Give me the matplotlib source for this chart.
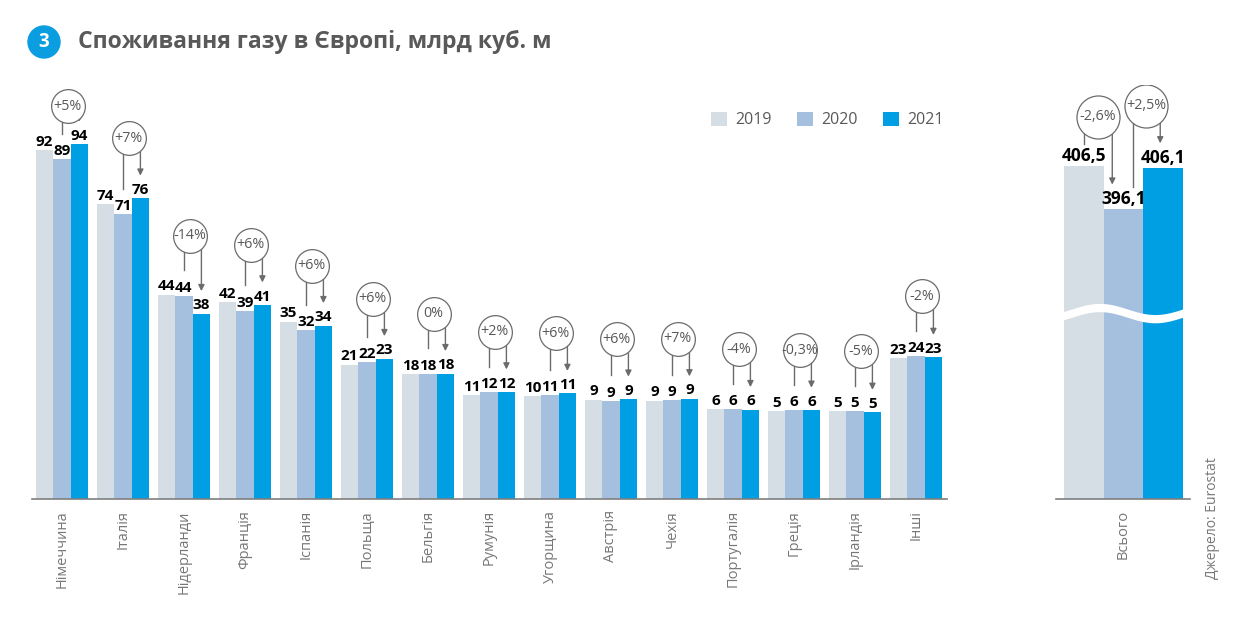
import numpy as np
import matplotlib.pyplot as plt
from matplotlib.patches import Circle

plt.rcParams['font.family'] = ['Open Sans', 'DejaVu Sans']

# дані (млрд куб. м)
countries = ["Німеччина", "Італія", "Нідерланди", "Франція", "Іспанія", "Польща",
             "Бельгія", "Румунія", "Угорщина", "Австрія", "Чехія", "Португалія",
             "Греція", "Ірландія", "Інші"]
years = ["2019", "2020", "2021"]
gas_2019 = [92.3, 74.3, 44.1, 41.6, 35.1, 20.8, 17.7, 10.7, 10.2, 9.1, 8.8, 6.0, 5.2, 5.2, 23.0]
gas_2020 = [89.3, 71.0, 43.7, 38.7, 32.3, 21.6, 17.7, 11.6, 10.6, 8.7, 8.9, 6.0, 5.6, 5.2, 23.6]
gas_2021 = [94.3, 76.3, 37.8, 40.7, 33.8, 22.8, 17.8, 11.7, 11.2, 9.3, 9.4, 5.8, 5.6, 4.9, 23.2]
changes = ["+5%", "+7%", "-14%", "+6%", "+6%", "+6%", "0%", "+2%", "+6%", "+6%",
           "+7%", "-4%", "-0,3%", "-5%", "-2%"]

total_label = "Всього"
total_vals = [406.5, 396.1, 406.1]
total_changes = ["-2,6%", "+2,5%"]

colors = ["#D5DEE5", "#A4C0DE", "#009FE3"]
gray = "#6b6b6b"
textgray = "#595959"

fig = plt.figure(figsize=(12.6, 6.22), dpi=100)

# ── заголовок ──
fig.add_artist(Circle((0.44, 5.80), 0.16, transform=fig.dpi_scale_trans,
                      color="#0A9DDF", zorder=5))
fig.text(0.44 / 12.6, 5.80 / 6.22, "3", color="white", fontsize=13.5, fontweight="bold",
         ha="center", va="center", zorder=6)
fig.text(0.062, 0.932, "Споживання газу в Європі, млрд куб. м", fontsize=16.6,
         fontweight="bold", color=textgray, va="center", ha="left")

# ── основний графік ──
ax = fig.add_axes([0.0254, 0.1977, 0.7262, 0.6656])
x = np.arange(len(countries))
w = 0.287
base = -24
for i, vals in enumerate([gas_2019, gas_2020, gas_2021]):
    xs = x + (i - 1) * w
    ax.bar(xs, np.array(vals) - base, w, bottom=base, color=colors[i], label=years[i], zorder=2)
    for xi, v in zip(xs, vals):
        ax.annotate(f"{v:.0f}", (xi, v), xytext=(0, 1), textcoords="offset points",
                    ha="center", va="bottom", fontsize=11, fontweight="bold", color="black", zorder=6)

for xi, v20, v21, txt in zip(x, gas_2020, gas_2021, changes):
    cy = min(max(v20, v21) + 20, 107)
    cx = xi + w / 2 - 0.05
    ax.plot([xi, xi], [cy, v20 + 8.5], color=gray, lw=1, zorder=3)
    ax.annotate("", xy=(xi + w, v21 + 7.5), xytext=(xi + w, cy),
                arrowprops=dict(arrowstyle="-|>", color=gray, lw=1, mutation_scale=9,
                                shrinkA=0, shrinkB=0), zorder=3)
    ax.scatter([cx], [cy], s=590, facecolor="white", edgecolor=gray, lw=0.9, zorder=4)
    ax.text(cx, cy, txt, ha="center", va="center", fontsize=10.3, color=textgray, zorder=5)

ax.set_xlim(-0.49, 14.51)
ax.set_ylim(base, 114)
ax.set_yticks([])
ax.set_xticks(x)
ax.set_xticklabels(countries, rotation=90, va="top", ha="center", fontsize=10.5, color="#777777")
ax.tick_params(axis="x", length=0, pad=8)
for s in ["top", "right", "left"]:
    ax.spines[s].set_visible(False)
ax.spines["bottom"].set_color("#7f7f7f")
ax.spines["bottom"].set_linewidth(1.2)
ax.legend(loc="upper right", bbox_to_anchor=(1.012, 0.97), ncol=3, frameon=False,
          handlelength=1.0, handleheight=1.0, columnspacing=1.6, handletextpad=0.5,
          fontsize=11.5, labelcolor=textgray)

# ── всього ──
ax2 = fig.add_axes([0.8381, 0.1977, 0.1063, 0.6656])
xt = np.array([-1.0, 0.0, 1.0])
tbase = 326
ax2.bar(xt, np.array(total_vals) - tbase, 1.0, bottom=tbase, color=colors, zorder=2)
for xi, v in zip(xt, total_vals):
    ax2.annotate(f"{v:.1f}".replace(".", ","), (xi, v), xytext=(0, 1), textcoords="offset points",
                 ha="center", va="bottom", fontsize=12.5, fontweight="bold", color="black", zorder=6)

# хвиля розриву
xx = np.linspace(-1.7, 1.7, 200)
yc = 371 - 1.35 * np.sin(2 * np.pi * (xx - 0.1) / 2.8)
ax2.fill_between(xx, yc - 1.0, yc + 1.0, color="white", lw=0, zorder=3)

# стрілки змін
arrows = [(xt[0], xt[1] - 0.28, -0.65, 418.5), (xt[1] + 0.25, xt[2] - 0.07, 0.58, 421.2)]
for (xa, xb, cx, cy), txt, i in zip(arrows, total_changes, [0, 1]):
    ax2.plot([xa, xa], [cy, total_vals[i] + 5.5], color=gray, lw=1, zorder=3)
    ax2.annotate("", xy=(xb, total_vals[i + 1] + 6), xytext=(xb, cy),
                 arrowprops=dict(arrowstyle="-|>", color=gray, lw=1, mutation_scale=9,
                                 shrinkA=0, shrinkB=0), zorder=3)
    ax2.scatter([cx], [cy], s=960, facecolor="white", edgecolor=gray, lw=0.9, zorder=4)
    ax2.text(cx, cy, txt, ha="center", va="center", fontsize=10.3, color=textgray, zorder=5)

ax2.set_xlim(-1.70, 1.68)
ax2.set_ylim(tbase, 426.2)
ax2.set_yticks([])
ax2.set_xticks([0])
ax2.set_xticklabels([total_label], rotation=90, va="top", ha="center", fontsize=10.5, color="#777777")
ax2.tick_params(axis="x", length=0, pad=8)
for s in ["top", "right", "left"]:
    ax2.spines[s].set_visible(False)
ax2.spines["bottom"].set_color("#7f7f7f")
ax2.spines["bottom"].set_linewidth(1.2)

fig.text(1212 / 1260, 1 - 518 / 622, "Джерело: Eurostat", rotation=90, ha="center",
         va="center", fontsize=10, color="#777777")

fig.savefig("out.png", dpi=100)
